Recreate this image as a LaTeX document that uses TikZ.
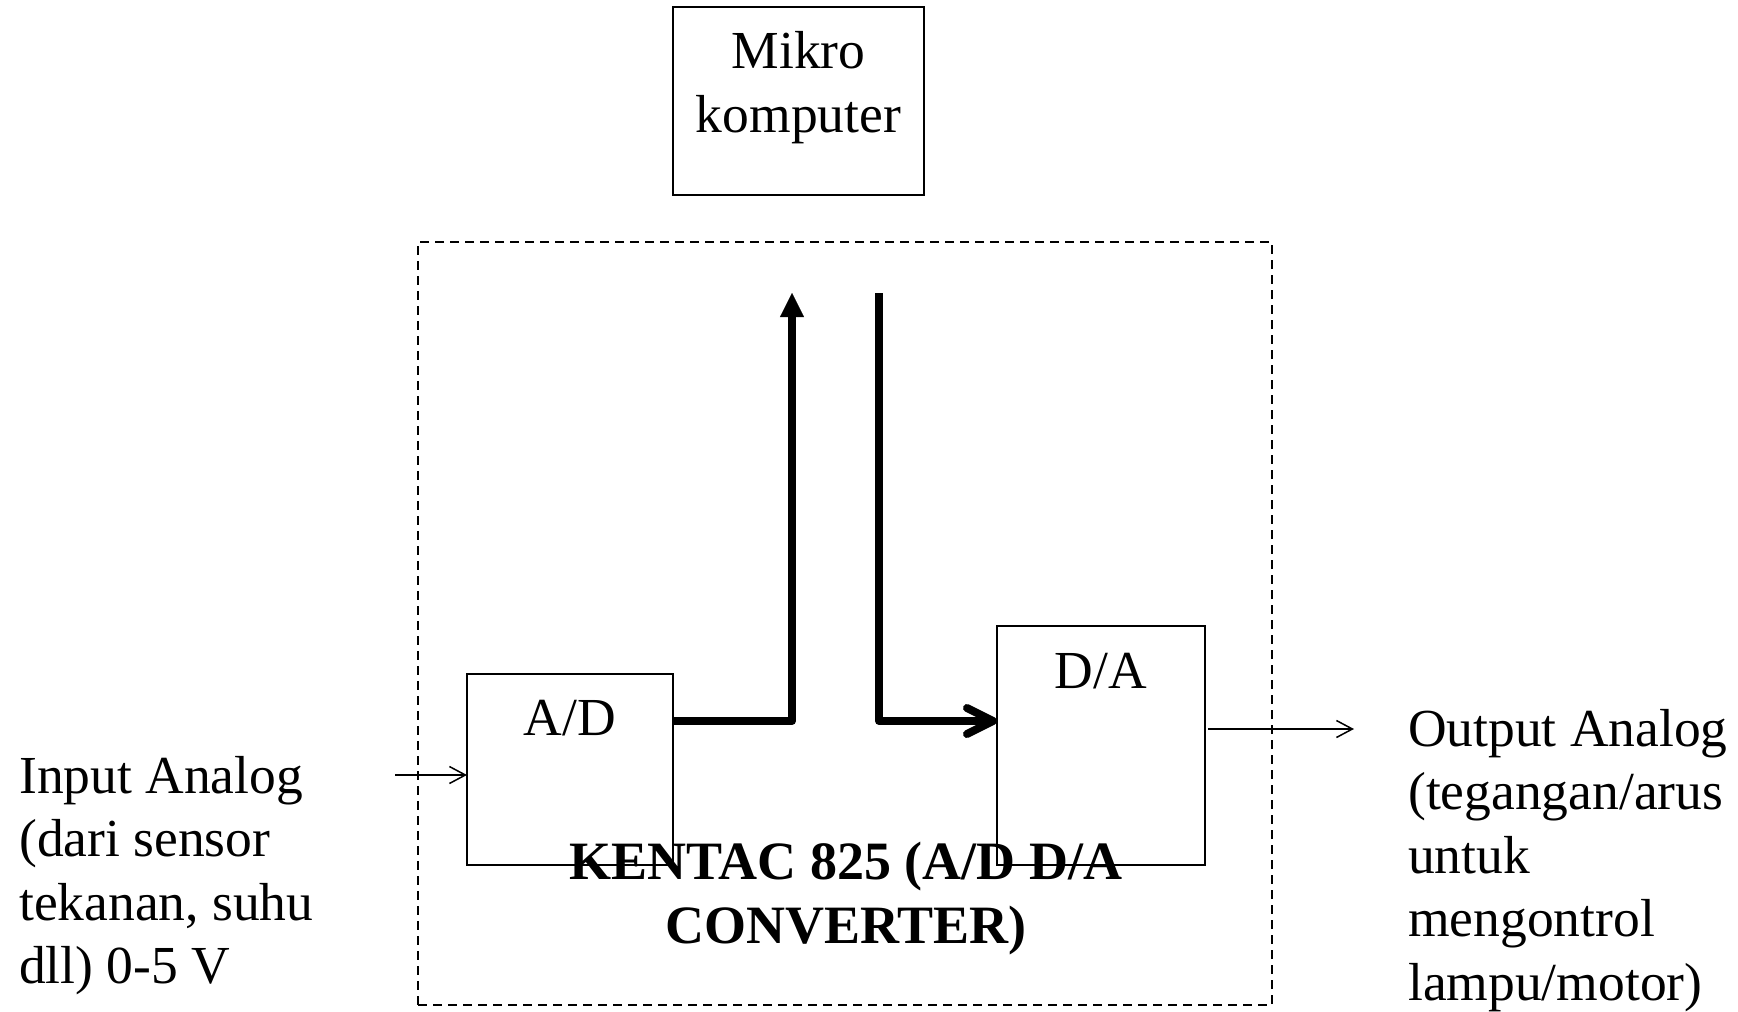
\documentclass[tikz,border=0pt]{standalone}
\usepackage{fontspec}
\setmainfont{Liberation Serif}
\usetikzlibrary{arrows.meta}
\begin{document}
\begin{tikzpicture}[x=1pt,y=-1pt,
  box/.style={draw, line width=1.6pt, anchor=north west, inner sep=0pt, outer sep=0pt},
  frame/.style={draw, line width=1.8pt, dash pattern=on 9pt off 6pt, anchor=north west, inner sep=0pt, outer sep=0pt},
  txt/.style={font=\fontsize{53.5}{63.5}\selectfont, inner sep=0pt},
  boldtxt/.style={font=\fontsize{54}{63.5}\selectfont\bfseries, inner sep=0pt},
  thinarrow/.style={line width=1.5pt, -{Straight Barb[length=16pt,width=17pt]}},
  bus/.style={line width=8pt, line join=round},
]
\useasboundingbox (0,0) rectangle (1738,1012);
% frame
\node[frame, minimum width=854pt, minimum height=763pt] (kframe) at (418,242) {};
% boxes
\node[box, minimum width=251pt, minimum height=188pt] (mikro) at (673,7) {};
\node[box, minimum width=206pt, minimum height=191pt] (ad) at (467,674) {};
\node[box, minimum width=208pt, minimum height=239pt] (da) at (997,626) {};
% texts (anchor=base is the baseline of the last line)
\node[txt, anchor=base, align=center] (mikrot) at (798.5,132) {Mikro\\komputer};
\node[txt, anchor=base] (adt) at (570,735) {A/D};
\node[txt, anchor=base] (dat) at (1101,688) {D/A};
\node[boldtxt, anchor=base, align=center] (kentac) at (846,943) {KENTAC 825 (A/D D/A\\CONVERTER)};
\node[txt, anchor=base west, align=left] (input) at (19,983.5) {Input Analog\\(dari sensor\\tekanan, suhu\\dll) 0-5 V};
\node[txt, anchor=base west, align=left] (output) at (1408,1000) {Output Analog\\(tegangan/arus\\untuk\\mengontrol\\lampu/motor)};
% bus lines
\coordinate (upTop) at (792,293);
\coordinate (adbus) at (792,721);
\coordinate (downTop) at (879,293);
\coordinate (dabus) at (879,721);
\draw[bus, -{Triangle[length=24pt,width=24pt,line width=0.1pt]}] (ad.east |- adbus) -- (adbus) -- (upTop);
\draw[bus, -{Straight Barb[length=26pt,width=26pt,round]}] (downTop) -- (dabus) -- (da.west |- dabus);
% thin arrows
\coordinate (inS) at (395,775);
\coordinate (outE) at (1354,729);
\draw[thinarrow] (inS) -- (ad.west |- inS);
\draw[thinarrow, shorten <=3pt] (da.east |- outE) -- (outE);
\end{tikzpicture}
\end{document}
